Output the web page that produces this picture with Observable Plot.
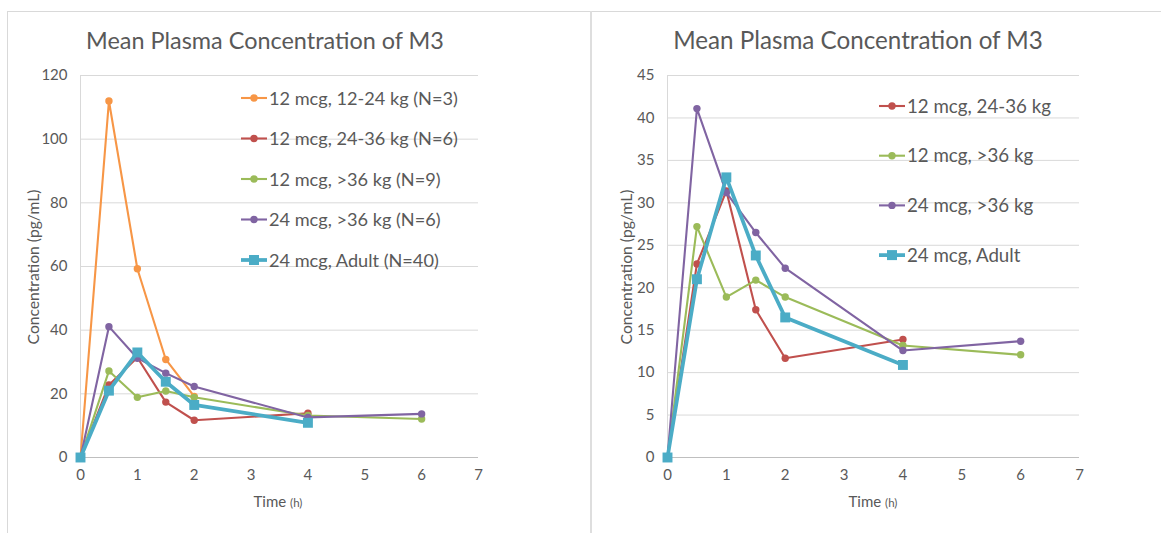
<!DOCTYPE html>
<html>
<head>
<meta charset="utf-8">
<script src="https://cdn.jsdelivr.net/npm/d3@7"></script>
<script src="https://cdn.jsdelivr.net/npm/@observablehq/plot@0.6"></script>
<style>
  html, body { margin: 0; padding: 0; background: #fff; }
  #root { position: relative; width: 1161px; height: 533px; overflow: hidden; background: #fff; font-family: Lato, "Open Sans", sans-serif; }
  #root > svg, #root > figure { position: absolute; top: 0; margin: 0; }
  #overlay { left: 0; pointer-events: none; }
</style>
</head>
<body>
<div id="root"></div>
<script>
// ---------------- data ----------------
const times = [0, 0.5, 1, 1.5, 2, 4, 6];
const conc_12mcg_12to24kg = [0, 112, 59.3, 30.8, 19.2, null, null];
const conc_12mcg_24to36kg = [0, 22.8, 31.4, 17.4, 11.7, 13.9, null];
const conc_12mcg_over36kg = [0, 27.2, 18.9, 20.9, 18.9, 13.2, 12.1];
const conc_24mcg_over36kg = [0, 41.1, 31.2, 26.5, 22.3, 12.6, 13.7];
const conc_24mcg_adult    = [0, 21.0, 33.0, 23.8, 16.5, 10.9, null];

const leftLabels  = ["12 mcg, 12-24 kg (N=3)", "12 mcg, 24-36 kg (N=6)", "12 mcg, >36 kg (N=9)", "24 mcg, >36 kg (N=6)", "24 mcg, Adult (N=40)"];
const rightLabels = ["12 mcg, 24-36 kg", "12 mcg, >36 kg", "24 mcg, >36 kg", "24 mcg, Adult"];
const seriesColors = ["#F79646", "#C0504D", "#9BBB59", "#8064A2", "#4BACC6"];

const titleText = "Mean Plasma Concentration of M3";
const yLabelText = "Concentration (pg/mL)";
const xLabelMain = "Time";
const xLabelUnit = "(h)";
const xTicks = [0, 1, 2, 3, 4, 5, 6, 7];
const leftYTicks = [0, 20, 40, 60, 80, 100, 120];
const rightYTicks = [0, 5, 10, 15, 20, 25, 30, 35, 40, 45];

// ---------------- build ----------------
const allSeries = [conc_12mcg_12to24kg, conc_12mcg_24to36kg, conc_12mcg_over36kg, conc_24mcg_over36kg, conc_24mcg_adult];

function rowsOf(values) {
  return times.map((t, i) => ({t, v: values[i]})).filter(d => d.v != null);
}

const panels = [
  {left: 0, width: 590, ml: 80, mr: 112, yMax: 120, yTicks: leftYTicks, idx: [0, 1, 2, 3, 4], labels: leftLabels,
   titleX: 265, titleW: 358, legX: 241, legY0: 98, legStep: 40.5, legW: 189, yLabX: 33, xLabX: 278},
  {left: 590, width: 571, ml: 77, mr: 82, yMax: 45, yTicks: rightYTicks, idx: [1, 2, 3, 4], labels: rightLabels,
   titleX: 858, titleW: 370, legX: 879, legY0: 106, legStep: 49.7, legW: 144, yLabX: 626, xLabX: 873}
];

const root = document.getElementById("root");

for (const p of panels) {
  const marks = [
    Plot.ruleY(p.yTicks.filter(v => v > 0), {stroke: "#d9d9d9", strokeWidth: 1}),
    Plot.ruleX([0], {stroke: "#d9d9d9", strokeWidth: 1}),
    Plot.ruleY([0], {stroke: "#bfbfbf", strokeWidth: 1})
  ];
  for (const i of p.idx) {
    const rows = rowsOf(allSeries[i]);
    const adult = i === 4;
    marks.push(Plot.line(rows, {x: "t", y: "v", stroke: seriesColors[i], strokeWidth: adult ? 3.75 : 2.1, strokeLinejoin: "round"}));
    marks.push(Plot.dot(rows, {x: "t", y: "v", fill: seriesColors[i], stroke: "none", r: adult ? 5.6 : 3.7, symbol: adult ? "square" : "circle"}));
  }
  const chart = Plot.plot({
    width: p.width, height: 533,
    marginLeft: p.ml, marginRight: p.mr, marginTop: 75, marginBottom: 76,
    style: {fontFamily: "Lato, 'Open Sans', sans-serif", fontSize: "15px", color: "#595959", background: "transparent", overflow: "visible"},
    x: {domain: [0, 7], ticks: xTicks, tickSize: 0, tickPadding: 12, label: null, tickFormat: d => String(d)},
    y: {domain: [0, p.yMax], ticks: p.yTicks, tickSize: 0, tickPadding: 13, label: null, tickFormat: d => String(d)},
    marks
  });
  chart.style.position = "absolute";
  chart.style.left = p.left + "px";
  chart.style.top = "0px";
  root.appendChild(chart);
}

// ---------------- overlay: frame, titles, legends, axis titles ----------------
const ov = d3.select(root).append("svg")
  .attr("id", "overlay").attr("width", 1161).attr("height", 533)
  .style("position", "absolute").style("left", "0px").style("top", "0px")
  .style("font-family", "Lato, 'Open Sans', sans-serif");

ov.append("line").attr("x1", 7).attr("x2", 1161).attr("y1", 11.5).attr("y2", 11.5).attr("stroke", "#d9d9d9");
ov.append("line").attr("x1", 7.5).attr("x2", 7.5).attr("y1", 11).attr("y2", 533).attr("stroke", "#d9d9d9");
ov.append("rect").attr("x", 590).attr("y", 11).attr("width", 2).attr("height", 522).attr("fill", "#dedede");

function fitSize(sel, base, target) {
  const len = sel.node().getComputedTextLength();
  return len > 0 ? base * target / len : base;
}

for (const p of panels) {
  const title = ov.append("text").attr("x", p.titleX).attr("y", 49).attr("text-anchor", "middle")
    .attr("font-size", 24).attr("fill", "#595959").text(titleText);
  title.attr("font-size", fitSize(title, 24, p.titleW));

  const texts = [];
  p.idx.forEach((si, k) => {
    const y = p.legY0 + k * p.legStep;
    const g = ov.append("g");
    const adult = si === 4;
    g.append("line").attr("x1", p.legX).attr("x2", p.legX + 26).attr("y1", y).attr("y2", y)
      .attr("stroke", seriesColors[si]).attr("stroke-width", adult ? 3.75 : 2.1);
    if (adult) {
      g.append("rect").attr("x", p.legX + 13 - 5).attr("y", y - 5).attr("width", 10).attr("height", 10).attr("fill", seriesColors[si]);
    } else {
      g.append("circle").attr("cx", p.legX + 13).attr("cy", y).attr("r", 3.7).attr("fill", seriesColors[si]);
    }
    texts.push(g.append("text").attr("x", p.legX + 28).attr("y", y).attr("dy", "0.36em")
      .attr("font-size", 18).attr("fill", "#595959").text(p.labels[k]));
  });
  const legSize = fitSize(texts[0], 18, p.legW);
  texts.forEach(t => t.attr("font-size", legSize));

  const yl = ov.append("text").attr("transform", `translate(${p.yLabX},267) rotate(-90)`).attr("text-anchor", "middle")
    .attr("dy", "0.35em").attr("font-size", 14.5).attr("fill", "#595959").text(yLabelText);
  yl.attr("font-size", fitSize(yl, 14.5, 155));

  const xt = ov.append("text").attr("x", p.xLabX).attr("y", 507).attr("text-anchor", "middle")
    .attr("font-size", 15).attr("fill", "#595959");
  xt.append("tspan").text(xLabelMain + " ");
  xt.append("tspan").attr("font-size", 11.5).text(xLabelUnit);
}
</script>
</body>
</html>
